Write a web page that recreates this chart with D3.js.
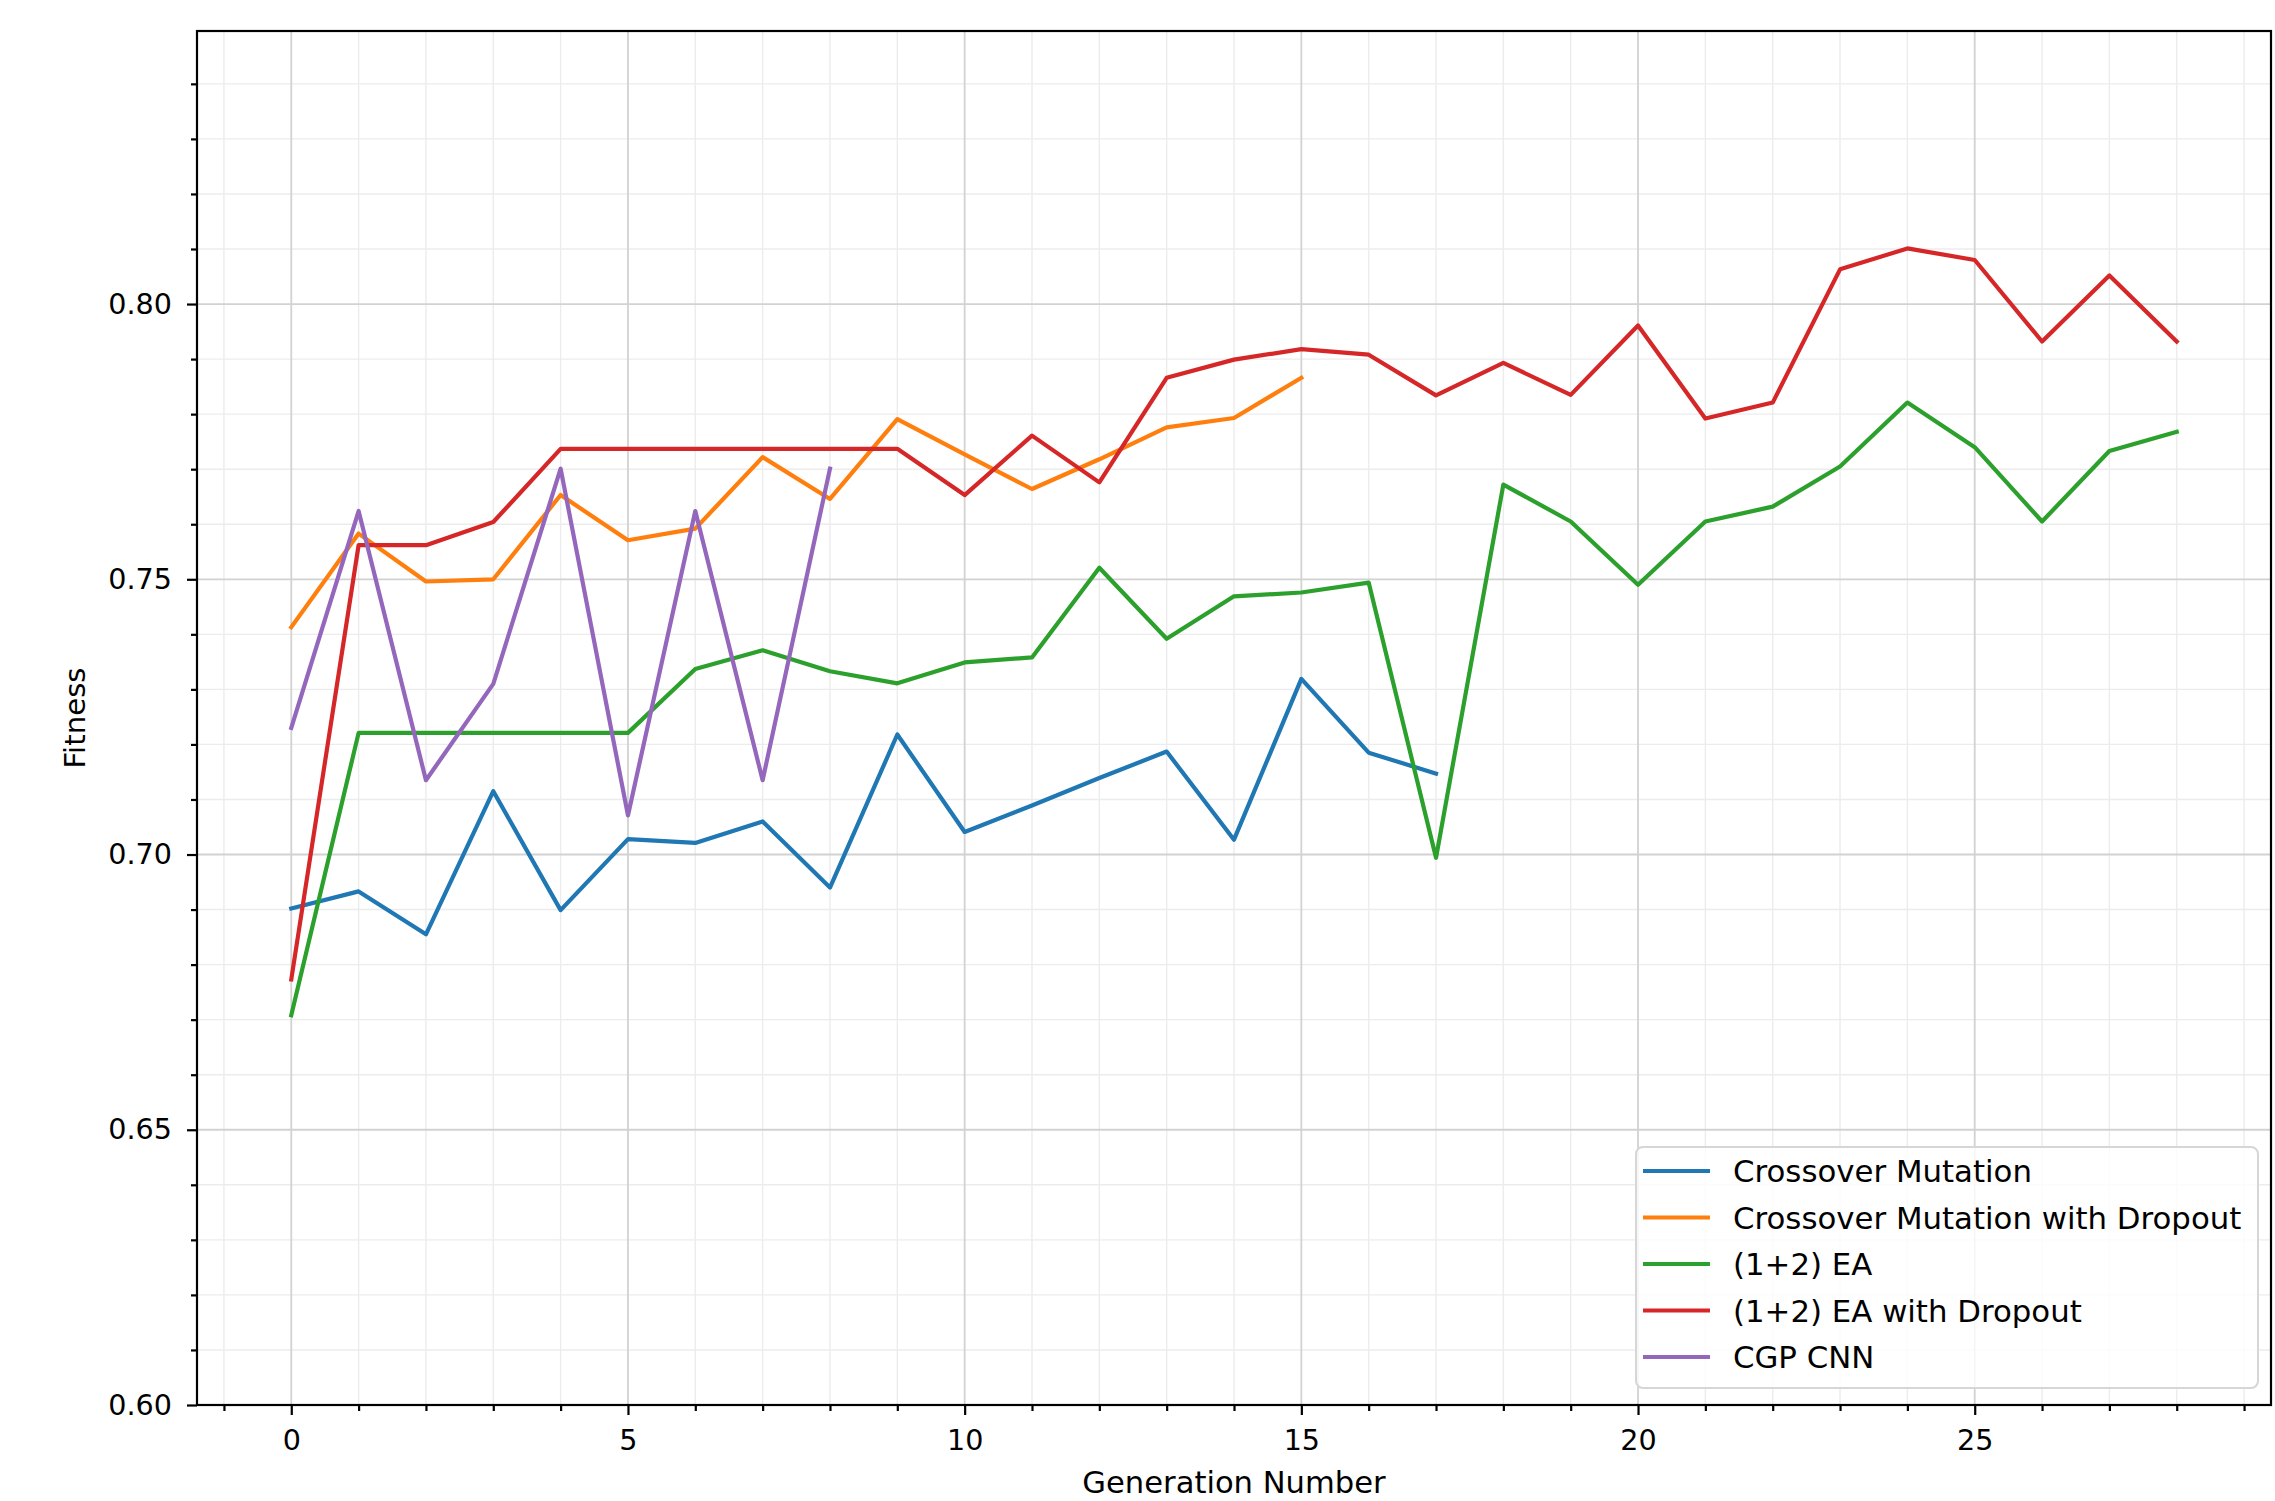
<!DOCTYPE html>
<html>
<head>
<meta charset="utf-8">
<script src="https://cdn.jsdelivr.net/npm/d3@7"></script>
<style>
  html, body { margin: 0; padding: 0; background: #fff; }
  svg { display: block; }
  text { font-family: "DejaVu Sans", sans-serif; fill: #000; }
</style>
</head>
<body>
<svg id="chart" width="2275" height="1501"></svg>
<script>
// ---- data ----
const seriesNames = [
  "Crossover Mutation",
  "Crossover Mutation with Dropout",
  "(1+2) EA",
  "(1+2) EA with Dropout",
  "CGP CNN"
];
const seriesColors = ["#1f77b4", "#ff7f0e", "#2ca02c", "#d62728", "#9467bd"];

const crossoverMutation = [0.6902, 0.6933, 0.6855, 0.7115, 0.6899, 0.7028, 0.7021, 0.7060, 0.6940, 0.7218,
  0.7041, 0.7089, 0.7139, 0.7187, 0.7027, 0.7319, 0.7185, 0.7147];
const crossoverMutationDropout = [0.7413, 0.7583, 0.7496, 0.7500, 0.7653, 0.7571, 0.7592, 0.7722, 0.7646, 0.7791,
  0.7727, 0.7664, 0.7718, 0.7776, 0.7793, 0.7866];
const ea12 = [0.6708, 0.7221, 0.7221, 0.7221, 0.7221, 0.7221, 0.7337, 0.7371, 0.7333, 0.7311,
  0.7349, 0.7358, 0.7521, 0.7392, 0.7469, 0.7476, 0.7494, 0.6994, 0.7672, 0.7605,
  0.7490, 0.7605, 0.7632, 0.7705, 0.7821, 0.7740, 0.7605, 0.7733, 0.7768];
const ea12Dropout = [0.6773, 0.7562, 0.7562, 0.7604, 0.7737, 0.7737, 0.7737, 0.7737, 0.7737, 0.7737,
  0.7653, 0.7761, 0.7676, 0.7866, 0.7899, 0.7918, 0.7908, 0.7834, 0.7893, 0.7835,
  0.7961, 0.7792, 0.7821, 0.8063, 0.8101, 0.8080, 0.7932, 0.8052, 0.7932];
const cgpCnn = [0.7230, 0.7624, 0.7135, 0.7310, 0.7701, 0.7071, 0.7624, 0.7135, 0.7701];

const xMajorTicks = [0, 5, 10, 15, 20, 25];
const yMajorTicks = [0.60, 0.65, 0.70, 0.75, 0.80];
const xLabel = "Generation Number";
const yLabel = "Fitness";

const allSeries = [crossoverMutation, crossoverMutationDropout, ea12, ea12Dropout, cgpCnn];

// ---- layout ----
const L = 197, R = 2271, T = 31, B = 1405;
const FS_TICK = 28.6, FS_XLAB = 30.6, FS_YLAB = 29.2, FS_LEG = 30.8;

const svg = d3.select("#chart");
const x = d3.scaleLinear().domain([-1.4, 29.4]).range([L, R]);
const y = d3.scaleLinear().domain([0.60, 0.8496]).range([B, T]);

const xMinor = d3.range(-1, 30, 1).filter(v => !xMajorTicks.includes(v));
const yMinor = d3.range(60, 85, 1).map(v => v / 100).filter(v => !yMajorTicks.some(m => Math.abs(m - v) < 1e-9));

// grid - minor
const grid = svg.append("g");
grid.selectAll(".gxm").data(xMinor).join("line")
  .attr("x1", d => x(d)).attr("x2", d => x(d)).attr("y1", T).attr("y2", B)
  .attr("stroke", "#ececec").attr("stroke-width", 1.4);
grid.selectAll(".gym").data(yMinor).join("line")
  .attr("y1", d => y(d)).attr("y2", d => y(d)).attr("x1", L).attr("x2", R)
  .attr("stroke", "#ececec").attr("stroke-width", 1.4);
// grid - major
grid.selectAll(".gxM").data(xMajorTicks).join("line")
  .attr("x1", d => x(d)).attr("x2", d => x(d)).attr("y1", T).attr("y2", B)
  .attr("stroke", "#d2d2d2").attr("stroke-width", 1.8);
grid.selectAll(".gyM").data(yMajorTicks).join("line")
  .attr("y1", d => y(d)).attr("y2", d => y(d)).attr("x1", L).attr("x2", R)
  .attr("stroke", "#d2d2d2").attr("stroke-width", 1.8);

// lines
const line = d3.line().x((d, i) => x(i)).y(d => y(d));
allSeries.forEach((s, k) => {
  svg.append("path").datum(s)
    .attr("d", line)
    .attr("fill", "none")
    .attr("stroke", seriesColors[k])
    .attr("stroke-width", 4.2)
    .attr("stroke-linejoin", "round")
    .attr("stroke-linecap", "square");
});

// axes
const xAxis = d3.axisBottom(x).tickValues(xMajorTicks).tickFormat(d3.format("d")).tickSize(10).tickPadding(15);
const gx = svg.append("g").attr("transform", `translate(0,${B})`).call(xAxis);
const xAxisMinor = d3.axisBottom(x).tickValues(xMinor).tickFormat("").tickSize(6);
const gxm = svg.append("g").attr("transform", `translate(0,${B})`).call(xAxisMinor);

const yAxis = d3.axisLeft(y).tickValues(yMajorTicks).tickFormat(d3.format(".2f")).tickSize(10).tickPadding(15);
const gy = svg.append("g").attr("transform", `translate(${L},0)`).call(yAxis);
const yAxisMinor = d3.axisLeft(y).tickValues(yMinor).tickFormat("").tickSize(6);
const gym = svg.append("g").attr("transform", `translate(${L},0)`).call(yAxisMinor);

[gx, gxm, gy, gym].forEach(g => {
  g.select(".domain").remove();
  g.selectAll(".tick line").attr("stroke", "#000").attr("stroke-width", 2.2);
  g.selectAll(".tick text").attr("font-size", FS_TICK).attr("font-family", "DejaVu Sans").attr("fill", "#000");
});

// frame
svg.append("rect").attr("x", L).attr("y", T).attr("width", R - L).attr("height", B - T)
  .attr("fill", "none").attr("stroke", "#000").attr("stroke-width", 2.2);

// axis labels
svg.append("text").attr("x", (L + R) / 2).attr("y", 1493)
  .attr("text-anchor", "middle").attr("font-size", FS_XLAB).text(xLabel);
svg.append("text").attr("transform", `translate(85,${(T + B) / 2}) rotate(-90)`)
  .attr("text-anchor", "middle").attr("font-size", FS_YLAB).text(yLabel);

// legend
const lg = svg.append("g");
lg.append("rect").attr("x", 1636).attr("y", 1147).attr("width", 622).attr("height", 241)
  .attr("rx", 7).attr("fill", "#fff").attr("fill-opacity", 0.8)
  .attr("stroke", "#d6d6d6").attr("stroke-width", 2);
seriesNames.forEach((name, i) => {
  const cy = 1171 + i * 46.5;
  lg.append("line").attr("x1", 1643).attr("x2", 1710).attr("y1", cy).attr("y2", cy)
    .attr("stroke", seriesColors[i]).attr("stroke-width", 4.2);
  lg.append("text").attr("x", 1733).attr("y", cy).attr("dy", "0.36em")
    .attr("font-size", FS_LEG).text(name);
});
</script>
</body>
</html>
